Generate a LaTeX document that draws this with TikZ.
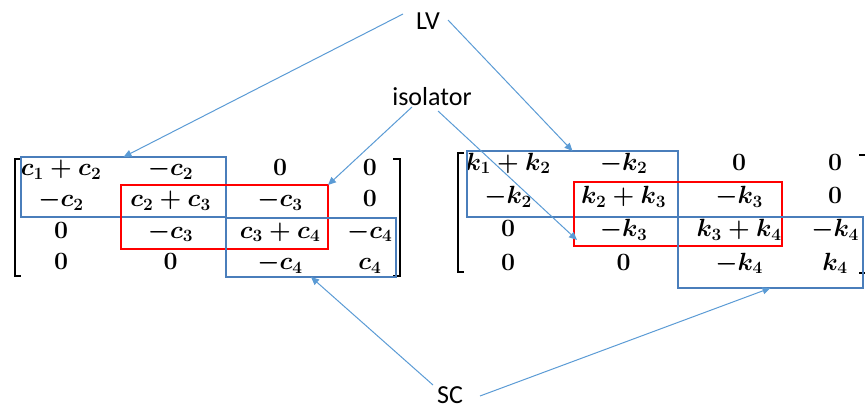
\documentclass[tikz,border=0pt]{standalone}
\usepackage{amsmath}
\usepackage{fontspec}
\setmainfont{Carlito}
\usepackage{tikz}
\usetikzlibrary{arrows.meta, matrix, calc}
\definecolor{boxblue}{HTML}{4A7EBB}
\definecolor{arrowblue}{HTML}{5B9BD5}
\definecolor{boxred}{HTML}{FF0000}
\tikzstyle{bluebox} = [rectangle, draw=boxblue, line width=1.2pt, inner sep=0pt, outer sep=0pt]
\tikzstyle{redbox} = [rectangle, draw=boxred, line width=1.2pt, inner sep=0pt, outer sep=0pt]
\tikzstyle{tag} = [font=\fontsize{26}{30}\selectfont, inner sep=0pt]
\tikzstyle{arrow} = [draw=arrowblue, line width=1pt, -{Triangle[length=8pt,width=7pt]}]
\tikzstyle{brk} = [line width=2.8pt]
\tikzstyle{mat} = [matrix of math nodes, inner sep=0pt, outer sep=0pt, anchor=north west, row sep=0pt, column sep=0pt,
  nodes={font=\fontsize{26}{30}\selectfont\boldmath, inner sep=0pt, text height=18pt, text depth=6pt}]

\begin{document}
\begin{tikzpicture}[x=1pt, y=-1pt]
  \useasboundingbox (0,0) rectangle (865,409);

  % stiffness and damping matrices
  \matrix (C) [mat, nodes={minimum width=109.5pt, minimum height=31.3pt},
    column 4/.style={nodes={minimum width=70pt}}] at (6.25,154) {
    c_1+c_2 & -c_2    & 0       & 0    \\
    -c_2    & c_2+c_3 & -c_3    & 0    \\
    0       & -c_3    & c_3+c_4 & -c_4 \\
    0       & 0       & -c_4    & c_4  \\
  };
  \matrix (K) [mat, nodes={minimum width=115.5pt, minimum height=33.3pt},
    column 4/.style={nodes={minimum width=76.5pt}}] at (450.25,147.5) {
    k_1+k_2 & -k_2    & 0       & 0    \\
    -k_2    & k_2+k_3 & -k_3    & 0    \\
    0       & -k_3    & k_3+k_4 & -k_4 \\
    0       & 0       & -k_4    & k_4  \\
  };

  % brackets
  \draw[brk] (21,159) -- (15,159) -- (15,276) -- (21,276);
  \draw[brk] (393,159) -- (400,159) -- (400,276) -- (393,276);
  \draw[brk] (464,153) -- (458,153) -- (458,272) -- (464,272);
  \draw[brk] (859,155) -- (867,155) -- (867,273) -- (859,273);

  % boxes
  \node[bluebox, minimum width=205pt, minimum height=60pt] (lvC) at (123.5,187) {};
  \node[redbox, minimum width=207pt, minimum height=64pt] (isoC) at (224.5,217) {};
  \node[bluebox, minimum width=170pt, minimum height=59pt] (scC) at (311,247.5) {};
  \node[bluebox, minimum width=211pt, minimum height=66pt] (lvK) at (572.5,184) {};
  \node[redbox, minimum width=208pt, minimum height=64pt] (isoK) at (678,214) {};
  \node[bluebox, minimum width=185pt, minimum height=71pt] (scK) at (770.5,252.5) {};

  % labels
  \node[tag] (LV) at (428,21) {LV};
  \node[tag] (iso) at (432,97) {isolator};
  \node[tag] (SC) at (450,395) {SC};

  \draw[arrow] ($(LV)+(-25,-7)$) -- (lvC.north);
  \draw[arrow] ($(LV)+(20,-1)$) -- (lvK.north);
  \draw[arrow] ($(iso)+(-20,10)$) -- (isoC.north east);
  \draw[arrow] ($(iso)+(6,14)$) -- ($(isoK.south west)+(3,-6)$);
  \draw[arrow] ($(SC)+(-17,-10)$) -- (scC.south);
  \draw[arrow] ($(SC)+(30,1)$) -- (scK.south);
\end{tikzpicture}
\end{document}
